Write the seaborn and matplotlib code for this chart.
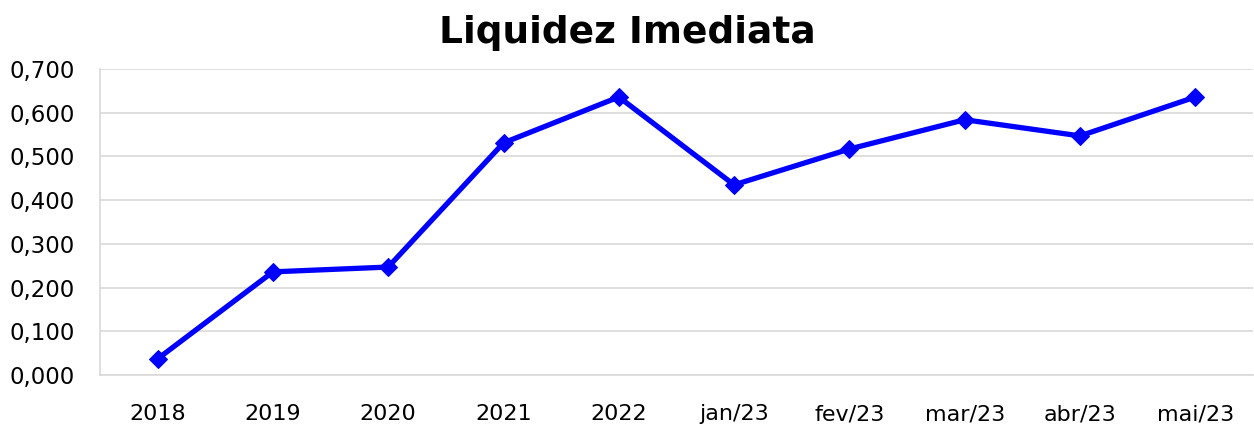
import pandas as pd
import numpy as np
import matplotlib.pyplot as plt
import seaborn as sns
from matplotlib.ticker import FuncFormatter, FixedLocator

# dados do gráfico
periodos = ['2018', '2019', '2020', '2021', '2022', 'jan/23', 'fev/23', 'mar/23', 'abr/23', 'mai/23']
liquidez = [0.037, 0.236, 0.247, 0.531, 0.636, 0.435, 0.517, 0.584, 0.547, 0.636]

df = pd.DataFrame({'periodo': periodos, 'liquidez': liquidez})
df['pos'] = np.arange(len(df))

sns.set_style('white')
plt.rcParams['font.family'] = ['DejaVu Sans']
plt.rcParams['text.color'] = 'black'
plt.rcParams['xtick.labelcolor'] = 'black'
plt.rcParams['ytick.labelcolor'] = 'black'

fig = plt.figure(figsize=(12.54, 4.25), dpi=100)
ax = fig.add_axes([0.0797, 0.1176, 0.9195, 0.72])

sns.lineplot(data=df, x='pos', y='liquidez', ax=ax, color='#0000ff', linewidth=3.8,
             marker='D', markersize=9, markeredgecolor='#0000ff', sort=False)

ax.set_xlim(-0.5, len(df) - 0.5)
ax.set_ylim(0, 0.7)
ax.set_yticks(np.arange(0, 0.701, 0.1))
ax.yaxis.set_major_formatter(FuncFormatter(lambda v, p: f'{v:.3f}'.replace('.', ',')))
ax.set_xticks(df['pos'])
ax.set_xticklabels(df['periodo'])
ax.xaxis.set_minor_locator(FixedLocator(np.arange(-0.5, len(df), 1)))
ax.tick_params(axis='x', which='major', length=0, labelsize=16, pad=21, labelcolor='black')
ax.tick_params(axis='x', which='minor', length=7, width=1.2, color='#d9d9d9')
ax.tick_params(axis='y', which='major', length=7, width=1.2, color='#d9d9d9', labelsize=16.5,
               pad=11, labelcolor='black')

ax.grid(axis='y', color='#d9d9d9', linewidth=1.2)
ax.set_axisbelow(True)
for s in ['top', 'right']:
    ax.spines[s].set_visible(False)
for s in ['left', 'bottom']:
    ax.spines[s].set_color('#d9d9d9')
    ax.spines[s].set_linewidth(1.2)

ax.set_xlabel('')
ax.set_ylabel('')
fig.suptitle('Liquidez Imediata', fontsize=27, fontweight='bold', y=0.965, color='black')

fig.savefig('out.png', dpi=100)
